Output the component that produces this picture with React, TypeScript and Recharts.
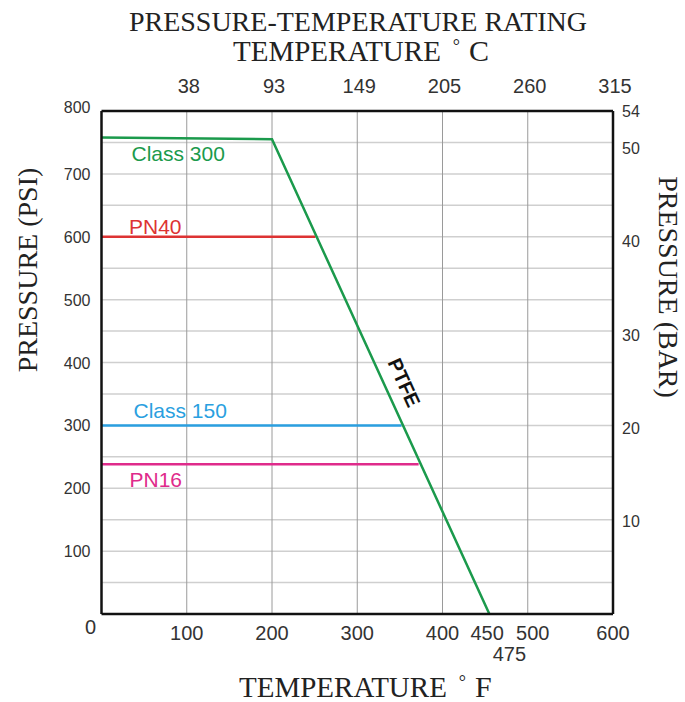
import React from 'react';
import { LineChart, Line, XAxis, YAxis, ReferenceLine, ReferenceDot } from 'recharts';

// ---- data ----
const fahrenheitTicks = [100, 200, 300, 400, 500, 600];
const celsiusLabels = ['38', '93', '149', '205', '260', '315'];
const bottomTicks = [0, 100, 200, 300, 400, 450, 475, 500, 600];
const psiTicks = [100, 200, 300, 400, 500, 600, 700, 800];
const barTicks = [10, 20, 30, 40, 50, 54];
const psiGrid = [50, 100, 150, 200, 250, 300, 350, 400, 450, 500, 550, 600, 650, 700, 750];
const tempGrid = [100, 200, 300, 400, 500];

const class300Temp = [0, 200, 455];
const class300Psi = [758, 755, 0];
const pn40Temp = [0, 251];
const pn40Psi = [600, 600];
const class150Temp = [0, 352];
const class150Psi = [300, 300];
const pn16Temp = [0, 372];
const pn16Psi = [238, 238];

const ptfeAnchor = { f: 355, psi: 368 };

const zip = (t: number[], p: number[]) => t.map((f, i) => ({ f, psi: p[i] }));
const class300 = zip(class300Temp, class300Psi);
const pn40 = zip(pn40Temp, pn40Psi);
const class150 = zip(class150Temp, class150Psi);
const pn16 = zip(pn16Temp, pn16Psi);

const GREEN = '#1b9a4c';
const RED = '#dd3333';
const BLUE = '#2a9fe0';
const PINK = '#df2b8b';

const SANS = '"Liberation Sans", Arial, sans-serif';
const SERIF = '"Liberation Serif", "Times New Roman", serif';
const TICK_COLOR = '#333';

const BottomTick = (props: any) => {
  const { x, y, payload } = props;
  const v = payload.value;
  let dx = 0;
  let dy = 26;
  if (v === 0) { dx = -11; dy = 20; }
  if (v === 450) dx = 2;
  if (v === 475) { dx = 3; dy = 47; }
  if (v === 500) dx = 5;
  return (
    <text x={x + dx} y={y + dy} textAnchor="middle" fontFamily={SANS} fontSize={20} fill={TICK_COLOR}>
      {v}
    </text>
  );
};

const TopTick = (props: any) => {
  const { x, y, payload, index } = props;
  const i = fahrenheitTicks.indexOf(payload.value);
  return (
    <text x={x + 2} y={y - 18} textAnchor="middle" fontFamily={SANS} fontSize={20} fill={TICK_COLOR}>
      {celsiusLabels[i >= 0 ? i : index]}
    </text>
  );
};

const LeftTick = (props: any) => {
  const { x, y, payload } = props;
  const v = payload.value;
  const dy = v === 800 ? 2 : 6;
  return (
    <text x={x - 11} y={y + dy} textAnchor="end" fontFamily={SANS} fontSize={16} fill={TICK_COLOR}>
      {v}
    </text>
  );
};

const RightTick = (props: any) => {
  const { x, y, payload } = props;
  return (
    <text x={x + 9} y={y + 6} textAnchor="start" fontFamily={SANS} fontSize={16} fill={TICK_COLOR}>
      {payload.value}
    </text>
  );
};

const seriesLabel = (text: string, color: string, dx: number, dy: number) => (p: any) => {
  if (p.index !== 0) return null;
  return (
    <text key={text} x={p.x + dx} y={p.y + dy} fontFamily={SANS} fontSize={21} fill={color}>
      {text}
    </text>
  );
};

const TopTitle = () => (
  <g>
    <text x={358} y={31} textAnchor="middle" fontFamily={SERIF} fontSize={28} fill="#222">
      PRESSURE-TEMPERATURE RATING
    </text>
    <text x={233} y={61} textAnchor="start" fontFamily={SERIF} fontSize={29} fill="#222">
      TEMPERATURE
      <tspan dx={12} dy={-9} fontSize={18}>°</tspan>
      <tspan dx={9} dy={9} fontSize={30}>C</tspan>
    </text>
  </g>
);

const BottomTitle = () => (
  <text x={239} y={697} textAnchor="start" fontFamily={SERIF} fontSize={29} fill="#222">
    TEMPERATURE
    <tspan dx={12} dy={-9} fontSize={18}>°</tspan>
    <tspan dx={9} dy={9} fontSize={30}>F</tspan>
  </text>
);

const LeftTitle = () => (
  <text x={37} y={270} transform="rotate(-90, 37, 270)" textAnchor="middle" fontFamily={SERIF} fontSize={28} fill="#222">
    PRESSURE (PSI)
  </text>
);

const RightTitle = () => (
  <text x={659} y={287} transform="rotate(90, 659, 287)" textAnchor="middle" fontFamily={SERIF} fontSize={28} fill="#222">
    PRESSURE (BAR)
  </text>
);

const PtfeShape = (p: any) => (
  <text
    x={p.cx}
    y={p.cy}
    transform={`rotate(65.5, ${p.cx}, ${p.cy})`}
    textAnchor="middle"
    dominantBaseline="central"
    fontFamily={SANS}
    fontWeight="bold"
    fontSize={20}
    fill="#111"
  >
    PTFE
  </text>
);

const lineCommon = {
  yAxisId: 'psi',
  dataKey: 'psi',
  type: 'linear' as const,
  strokeWidth: 2.5,
  dot: false,
  activeDot: false,
  isAnimationActive: false,
};

export default function App() {
  return (
    <div style={{ position: 'absolute', left: 0, top: 0, width: 685, height: 702, background: '#fff' }}>
      <LineChart width={685} height={702} margin={{ top: 0, right: 0, bottom: 0, left: 0 }}>
        <XAxis
          xAxisId="bottom"
          dataKey="f"
          type="number"
          domain={[0, 600]}
          ticks={bottomTicks}
          interval={0}
          orientation="bottom"
          height={88}
          tickSize={0}
          tickMargin={0}
          tickLine={false}
          axisLine={{ stroke: '#111', strokeWidth: 2.5 }}
          tick={BottomTick}
          allowDataOverflow
          label={{ content: BottomTitle }}
        />
        <XAxis
          xAxisId="top"
          dataKey="f"
          type="number"
          domain={[0, 600]}
          ticks={fahrenheitTicks}
          interval={0}
          orientation="top"
          height={111}
          tickSize={0}
          tickMargin={0}
          tickLine={false}
          axisLine={{ stroke: '#111', strokeWidth: 2.5 }}
          tick={TopTick}
          allowDataOverflow
          label={{ content: TopTitle }}
        />
        <YAxis
          yAxisId="psi"
          type="number"
          domain={[0, 800]}
          ticks={psiTicks}
          interval={0}
          orientation="left"
          width={101.5}
          tickSize={0}
          tickMargin={0}
          tickLine={false}
          axisLine={{ stroke: '#111', strokeWidth: 2.5 }}
          tick={LeftTick}
          allowDataOverflow
          label={{ content: LeftTitle }}
        />
        <YAxis
          yAxisId="bar"
          type="number"
          domain={[0, 54]}
          ticks={barTicks}
          interval={0}
          orientation="right"
          width={72}
          tickSize={0}
          tickMargin={0}
          tickLine={false}
          axisLine={{ stroke: '#111', strokeWidth: 2.5 }}
          tick={RightTick}
          allowDataOverflow
          label={{ content: RightTitle }}
        />
        {psiGrid.map((v) => (
          <ReferenceLine key={`h${v}`} xAxisId="bottom" yAxisId="psi" y={v} stroke="#cfcfcf" strokeWidth={1.5} />
        ))}
        {tempGrid.map((v) => (
          <ReferenceLine key={`v${v}`} xAxisId="bottom" yAxisId="psi" x={v} stroke="#9a9a9a" strokeWidth={1} />
        ))}
        <Line {...lineCommon} xAxisId="top" data={pn40} stroke={RED} label={seriesLabel('PN40', RED, 27.5, -3)} />
        <Line {...lineCommon} xAxisId="top" data={class150} stroke={BLUE} label={seriesLabel('Class 150', BLUE, 32, -7)} />
        <Line {...lineCommon} xAxisId="top" data={pn16} stroke={PINK} label={seriesLabel('PN16', PINK, 28, 23)} />
        <Line {...lineCommon} xAxisId="bottom" data={class300} stroke={GREEN} label={seriesLabel('Class 300', GREEN, 30, 24)} />
        <ReferenceDot xAxisId="bottom" yAxisId="psi" x={ptfeAnchor.f} y={ptfeAnchor.psi} r={0} shape={PtfeShape} />
      </LineChart>
    </div>
  );
}
